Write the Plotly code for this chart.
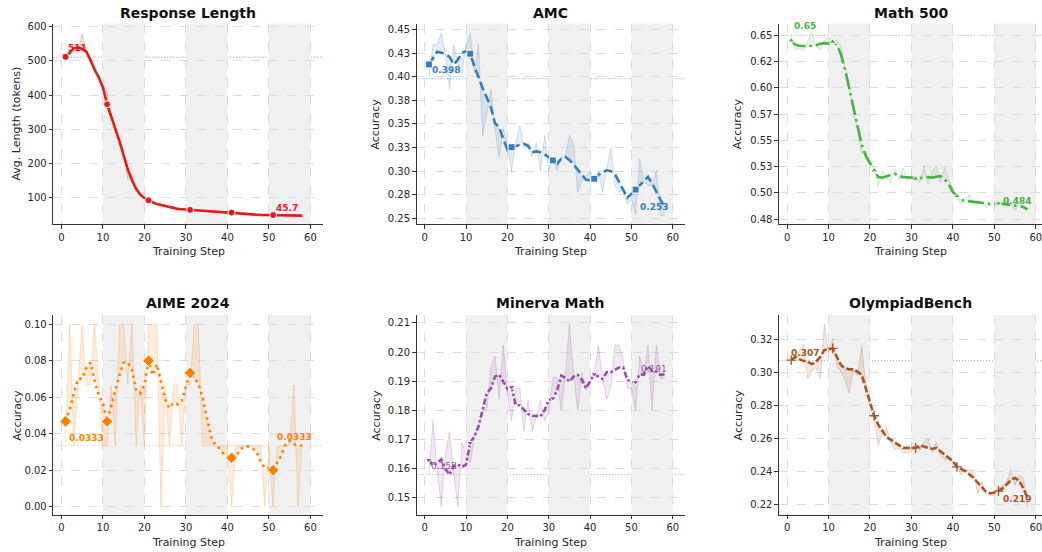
import plotly.graph_objects as go

# ---------------- data ----------------
steps = list(range(1, 59))
x_tick_vals = [0, 10, 20, 30, 40, 50, 60]
phase_bands = [(10, 20), (30, 40), (50, 60)]

titles = ["Response Length", "AMC", "Math 500", "AIME 2024", "Minerva Math", "OlympiadBench"]
y_titles = ["Avg. Length (tokens)", "Accuracy", "Accuracy", "Accuracy", "Accuracy", "Accuracy"]
x_title = "Training Step"

resp_raw = [511, 518, 545, 522, 580, 530, 498, 482, 450, 428,
            410, 330, 305, 270, 232, 152, 165, 125, 112, 97,
            89, 80, 82, 75, 74, 69, 74, 64, 65, 63,
            62, 64, 61, 62, 60, 61, 58, 59, 56, 58,
            62, 52, 51, 50, 48, 49, 47, 48, 48, 47,
            48, 48, 47, 47, 46, 47, 46, 45.7]
resp_smooth = [512, 525, 537, 540, 535, 527, 503, 474, 452, 422,
               373, 337, 303, 264, 223, 182, 150, 125, 108, 98,
               91, 85, 80, 77, 74, 71, 68, 66, 65, 64,
               63, 63, 62, 62, 61, 60, 59, 58, 57, 56,
               55, 53, 51, 50, 49, 49, 48, 48, 48, 48,
               48, 48, 47.5, 47, 47, 46.5, 46, 46]

amc_raw = [0.398, 0.434, 0.434, 0.446, 0.425, 0.387, 0.434, 0.415, 0.404, 0.434,
           0.446, 0.404, 0.434, 0.338, 0.360, 0.386, 0.345, 0.315, 0.345, 0.327,
           0.300, 0.330, 0.348, 0.325, 0.330, 0.315, 0.330, 0.300, 0.338, 0.300,
           0.315, 0.300, 0.315, 0.315, 0.338, 0.330, 0.278, 0.290, 0.295, 0.300,
           0.290, 0.300, 0.278, 0.300, 0.325, 0.285, 0.278, 0.280, 0.265, 0.270,
           0.254, 0.313, 0.290, 0.285, 0.285, 0.301, 0.253, 0.253]
amc_smooth = [0.413, 0.420, 0.4265, 0.4254, 0.424, 0.421, 0.413, 0.418, 0.4255, 0.427,
              0.4244, 0.411, 0.399, 0.388, 0.378, 0.3675, 0.3507, 0.3465, 0.334, 0.3226,
              0.3254, 0.3265, 0.328, 0.329, 0.327, 0.320, 0.321, 0.320, 0.3177, 0.315,
              0.3114, 0.308, 0.313, 0.315, 0.312, 0.307, 0.302, 0.297, 0.291, 0.290,
              0.292, 0.296, 0.299, 0.301, 0.300, 0.297, 0.289, 0.280, 0.272, 0.276,
              0.2805, 0.284, 0.289, 0.294, 0.287, 0.278, 0.270, 0.262]

math_raw = [0.650, 0.636, 0.637, 0.636, 0.645, 0.652, 0.640, 0.636, 0.645, 0.648,
            0.642, 0.646, 0.640, 0.620, 0.605, 0.575, 0.560, 0.537, 0.540, 0.530,
            0.525, 0.506, 0.522, 0.515, 0.510, 0.523, 0.512, 0.524, 0.512, 0.516,
            0.513, 0.510, 0.526, 0.508, 0.520, 0.526, 0.510, 0.5245, 0.512, 0.503,
            0.495, 0.490, 0.492, 0.498, 0.490, 0.493, 0.489, 0.486, 0.488, 0.492,
            0.490, 0.488, 0.493, 0.489, 0.483, 0.489, 0.486, 0.484]
math_smooth = [0.645, 0.641, 0.640, 0.6396, 0.6396, 0.640, 0.6405, 0.642, 0.6425, 0.642,
               0.6437, 0.641, 0.6317, 0.617, 0.600, 0.581, 0.563, 0.546, 0.535, 0.528,
               0.5214, 0.515, 0.5145, 0.516, 0.517, 0.518, 0.516, 0.515, 0.515, 0.5145,
               0.5135, 0.514, 0.5145, 0.515, 0.5145, 0.515, 0.516, 0.513, 0.508, 0.501,
               0.497, 0.4935, 0.4925, 0.492, 0.4915, 0.491, 0.4905, 0.490, 0.4895, 0.489,
               0.4899, 0.4895, 0.489, 0.4885, 0.488, 0.4875, 0.4865, 0.4842]

aime_raw = [0.0333, 0.1, 0.0333, 0.0667, 0.1, 0.0667, 0.0667, 0.1, 0.0667, 0.0333,
            0.0333, 0.0667, 0.0333, 0.1, 0.1, 0.0667, 0.1, 0.0333, 0.0667, 0.0333,
            0.1, 0.1, 0.1, 0.0, 0.0667, 0.0333, 0.0667, 0.0667, 0.0333, 0.0667,
            0.0667, 0.1, 0.1, 0.0333, 0.0333, 0.0333, 0.0333, 0.0333, 0.0333, 0.0333,
            0.0, 0.0333, 0.0333, 0.0333, 0.0333, 0.0333, 0.0333, 0.0333, 0.0, 0.0333,
            0.0, 0.0333, 0.0333, 0.0333, 0.0333, 0.0667, 0.0, 0.0333]
aime_smooth = [0.0467, 0.053, 0.062, 0.070, 0.070, 0.076, 0.079, 0.069, 0.061, 0.057,
               0.0467, 0.055, 0.064, 0.072, 0.079, 0.079, 0.075, 0.064, 0.062, 0.067,
               0.080, 0.072, 0.078, 0.068, 0.059, 0.054, 0.057, 0.056, 0.058, 0.066,
               0.0733, 0.071, 0.067, 0.060, 0.050, 0.039, 0.034, 0.032, 0.029, 0.027,
               0.0267, 0.027, 0.031, 0.033, 0.033, 0.032, 0.030, 0.025, 0.021, 0.021,
               0.020, 0.024, 0.028, 0.034, 0.036, 0.034, 0.034, 0.0333]

minerva_raw = [0.158, 0.1765, 0.160, 0.147, 0.165, 0.1728, 0.158, 0.147, 0.1689, 0.1649,
               0.162, 0.171, 0.175, 0.180, 0.180, 0.195, 0.1986, 0.1839, 0.2024, 0.186,
               0.1765, 0.1876, 0.1876, 0.1728, 0.1836, 0.1728, 0.178, 0.1836, 0.1765, 0.179,
               0.1912, 0.1912, 0.180, 0.192, 0.2094, 0.192, 0.180, 0.193, 0.187, 0.189,
               0.193, 0.2024, 0.191, 0.1836, 0.188, 0.2024, 0.2024, 0.1975, 0.1876, 0.1876,
               0.180, 0.1986, 0.192, 0.2024, 0.180, 0.2024, 0.191, 0.191]
minerva_smooth = [0.163, 0.1611, 0.162, 0.1632, 0.1598, 0.158, 0.161, 0.1615, 0.1606, 0.1615,
                  0.1689, 0.1711, 0.1745, 0.1802, 0.1859, 0.1876, 0.1916, 0.1922, 0.1899, 0.1874,
                  0.188, 0.1819, 0.1817, 0.1802, 0.1787, 0.1782, 0.1782, 0.178, 0.1802, 0.1836,
                  0.1842, 0.1867, 0.1919, 0.1912, 0.1899, 0.1916, 0.1922, 0.1905, 0.1876, 0.1899,
                  0.1924, 0.1916, 0.1908, 0.1931, 0.1931, 0.1939, 0.1947, 0.1947, 0.1905, 0.1899,
                  0.1897, 0.1924, 0.1922, 0.1952, 0.1935, 0.1933, 0.1922, 0.1924]

olymp_raw = [0.307, 0.309, 0.313, 0.3168, 0.2964, 0.301, 0.303, 0.2964, 0.3288, 0.312,
             0.3204, 0.304, 0.300, 0.296, 0.2874, 0.302, 0.298, 0.3154, 0.292, 0.280,
             0.272, 0.2564, 0.264, 0.2664, 0.258, 0.2534, 0.254, 0.2514, 0.2514, 0.252,
             0.256, 0.253, 0.258, 0.2604, 0.252, 0.258, 0.250, 0.247, 0.248, 0.246,
             0.244, 0.238, 0.241, 0.241, 0.241, 0.2264, 0.234, 0.2264, 0.227, 0.228,
             0.230, 0.232, 0.234, 0.2414, 0.232, 0.238, 0.236, 0.2188]
olymp_smooth = [0.3074, 0.3094, 0.308, 0.3068, 0.3064, 0.305, 0.3064, 0.3094, 0.3134, 0.314,
                0.3144, 0.3094, 0.3044, 0.3024, 0.3018, 0.3018, 0.3004, 0.2984, 0.2904, 0.2814,
                0.2738, 0.2684, 0.2644, 0.2608, 0.2594, 0.2578, 0.256, 0.2544, 0.2544, 0.2544,
                0.2544, 0.256, 0.2554, 0.2548, 0.2538, 0.2544, 0.2524, 0.2504, 0.2488, 0.2464,
                0.243, 0.2418, 0.2404, 0.2384, 0.2364, 0.2334, 0.2308, 0.228, 0.227, 0.2274,
                0.2284, 0.230, 0.2324, 0.235, 0.2364, 0.2344, 0.230, 0.2244]

resp_ticks = [100, 200, 300, 400, 500, 600]
resp_tick_text = ["100", "200", "300", "400", "500", "600"]
amc_ticks = [0.25, 0.275, 0.30, 0.325, 0.35, 0.375, 0.40, 0.425, 0.45]
amc_tick_text = ["0.25", "0.28", "0.30", "0.33", "0.35", "0.38", "0.40", "0.43", "0.45"]
math_ticks = [0.475, 0.50, 0.525, 0.55, 0.575, 0.60, 0.625, 0.65]
math_tick_text = ["0.48", "0.50", "0.53", "0.55", "0.57", "0.60", "0.62", "0.65"]
aime_ticks = [0.0, 0.02, 0.04, 0.06, 0.08, 0.10]
aime_tick_text = ["0.00", "0.02", "0.04", "0.06", "0.08", "0.10"]
minerva_ticks = [0.15, 0.16, 0.17, 0.18, 0.19, 0.20, 0.21]
minerva_tick_text = ["0.15", "0.16", "0.17", "0.18", "0.19", "0.20", "0.21"]
olymp_ticks = [0.22, 0.24, 0.26, 0.28, 0.30, 0.32]
olymp_tick_text = ["0.22", "0.24", "0.26", "0.28", "0.30", "0.32"]

# ---------------- style ----------------
W, H = 1042, 552
FONT = "DejaVu Sans"
col_px = [(53.3, 322.7), (416.7, 685.0), (779.0, 1042.0)]
row_px = [(21.7, 223.3), (315.0, 515.7)]
x_ranges = [[-1.95, 62.95], [-1.95, 62.95], [-1.95, 61.5]]
title_y_px = [11.5, 303.0]
xtitle_y_px = [250.5, 543.0]
ytitle_x_px = [16.7, 375.7, 738.3]

panels = [
    dict(raw=resp_raw, smooth=resp_smooth, color="#e41a1c", dash="solid", symbol="circle", msize=7,
         ticks=resp_ticks, ticktext=resp_tick_text, yrange=[21.3, 609.6],
         start_shift=(12, 9), end_shift=(-15, 8), label_bold=True),
    dict(raw=amc_raw, smooth=amc_smooth, color="#377eb8", dash="9px,4px", symbol="square", msize=7,
         ticks=amc_ticks, ticktext=amc_tick_text, yrange=[0.244, 0.4563],
         start_shift=(17.5, 8.7), end_shift=(-11, 9), label_bold=True),
    dict(raw=math_raw, smooth=math_smooth, color="#4daf4a", dash="16px,4px,2.5px,4px", symbol="triangle-up", msize=6,
         ticks=math_ticks, ticktext=math_tick_text, yrange=[0.4703, 0.6611],
         start_shift=(13.6, 9), end_shift=(-10.7, 8.8), label_bold=True),
    dict(raw=aime_raw, smooth=aime_smooth, color="#ff7f00", dash="2.5px,4px", symbol="diamond", msize=9,
         ticks=aime_ticks, ticktext=aime_tick_text, yrange=[-0.0046, 0.1049],
         start_shift=(20.6, 8), end_shift=(-7.4, 8.6), label_bold=True),
    dict(raw=minerva_raw, smooth=minerva_smooth, color="#984ea3", dash="6px,2.5px,2.5px,2.5px", symbol="triangle-down", msize=6,
         ticks=minerva_ticks, ticktext=minerva_tick_text, yrange=[0.1442, 0.2126],
         start_shift=(14.8, 8.5), end_shift=(-10.7, 9.4), label_bold=False),
    dict(raw=olymp_raw, smooth=olymp_smooth, color="#a65628", dash="7px,2.5px", symbol="cross-thin", msize=7,
         ticks=olymp_ticks, ticktext=olymp_tick_text, yrange=[0.214, 0.3344],
         start_shift=(13.6, 8), end_shift=(-10.7, 8.4), label_bold=True),
]


def rgba(hex_, a):
    h = hex_.lstrip("#")
    r, g, b = int(h[0:2], 16), int(h[2:4], 16), int(h[4:6], 16)
    return f"rgba({r},{g},{b},{a})"


fig = go.Figure()
shapes = []
annotations = []
layout_axes = {}

for i, p in enumerate(panels):
    n = i + 1
    r, c = divmod(i, 3)
    xa = "x" if n == 1 else f"x{n}"
    ya = "y" if n == 1 else f"y{n}"
    col = p["color"]

    # raw series (band edge)
    fig.add_trace(go.Scatter(x=steps, y=p["raw"], xaxis=xa, yaxis=ya, mode="lines",
                             line=dict(color=rgba(col, 0.28), width=0.8),
                             showlegend=False, hoverinfo="skip"))
    # smoothed series with band fill to raw
    fig.add_trace(go.Scatter(x=steps, y=p["smooth"], xaxis=xa, yaxis=ya, mode="lines",
                             fill="tonexty", fillcolor=rgba(col, 0.13),
                             line=dict(color=col, width=2.6, dash=p["dash"]),
                             showlegend=False))
    # markers every 10 steps
    if p["symbol"] == "cross-thin":
        mk = dict(symbol="cross-thin", size=p["msize"], color=col, line=dict(color=col, width=1.3))
    else:
        mk = dict(symbol=p["symbol"], size=p["msize"], color=col, line=dict(color="white", width=1))
    fig.add_trace(go.Scatter(x=steps[::10], y=p["smooth"][::10], xaxis=xa, yaxis=ya, mode="markers",
                             marker=mk, showlegend=False))

    # baseline at initial value (under the phase bands)
    shapes.append(dict(type="line", layer="below", xref=f"{xa} domain", x0=0, x1=1,
                       yref=ya, y0=p["raw"][0], y1=p["raw"][0],
                       line=dict(color=rgba(col, 0.6), width=1, dash="1px,2px")))
    for (a, b) in phase_bands:
        shapes.append(dict(type="rect", layer="below", xref=xa, x0=a, x1=b,
                           yref=f"{ya} domain", y0=0, y1=1,
                           fillcolor="#f0f0f0", line=dict(width=0)))

    x0p, x1p = col_px[c]
    y0p, y1p = row_px[r]
    xkey = "xaxis" if n == 1 else f"xaxis{n}"
    ykey = "yaxis" if n == 1 else f"yaxis{n}"
    common = dict(showline=True, linecolor="#333333", linewidth=1.2, ticks="outside", ticklen=3.5,
                  tickcolor="#333333", tickwidth=1, showgrid=True, gridcolor="#dcdcdc", gridwidth=0.8,
                  griddash="dash", zeroline=False, ticklabeloverflow="allow",
                  tickfont=dict(family=FONT, size=10, color="#262626"))
    layout_axes[xkey] = dict(domain=[x0p / W, x1p / W], anchor=ya, range=x_ranges[c],
                             tickmode="array", tickvals=x_tick_vals,
                             ticktext=[str(v) for v in x_tick_vals], **common)
    layout_axes[ykey] = dict(domain=[1 - y1p / H, 1 - y0p / H], anchor=xa, range=p["yrange"],
                             tickmode="array", tickvals=p["ticks"], ticktext=p["ticktext"], **common)

    # titles
    cx = (x0p + x1p) / 2 / W
    annotations.append(dict(text=f"<b>{titles[i]}</b>", xref="paper", yref="paper", x=cx,
                            y=1 - title_y_px[r] / H, xanchor="center", yanchor="middle",
                            showarrow=False, font=dict(family=FONT, size=14, color="#111111")))
    annotations.append(dict(text=x_title, xref="paper", yref="paper", x=cx,
                            y=1 - xtitle_y_px[r] / H, xanchor="center", yanchor="middle",
                            showarrow=False, font=dict(family=FONT, size=11, color="#262626")))
    annotations.append(dict(text=y_titles[i], xref="paper", yref="paper", x=ytitle_x_px[c] / W,
                            y=1 - (y0p + y1p) / 2 / H, xanchor="center", yanchor="middle",
                            textangle=-90, showarrow=False,
                            font=dict(family=FONT, size=11, color="#262626")))

    # start / end value labels
    for idx, shift in ((0, p["start_shift"]), (-1, p["end_shift"])):
        v = p["raw"][idx]
        txt = f"{v:.3g}"
        if p["label_bold"]:
            txt = f"<b>{txt}</b>"
        annotations.append(dict(text=txt, xref=xa, yref=ya, x=steps[idx], y=v,
                                xshift=shift[0], yshift=shift[1], xanchor="center", yanchor="middle",
                                showarrow=False, font=dict(family=FONT, size=9, color=col)))

fig.update_layout(width=W, height=H, margin=dict(l=0, r=0, t=0, b=0),
                  paper_bgcolor="white", plot_bgcolor="white",
                  font=dict(family=FONT), shapes=shapes, annotations=annotations,
                  showlegend=False, **layout_axes)

fig.write_html("out.html", config={"displayModeBar": False},
               post_script="document.body.style.margin='0';document.body.style.overflow='hidden';")
